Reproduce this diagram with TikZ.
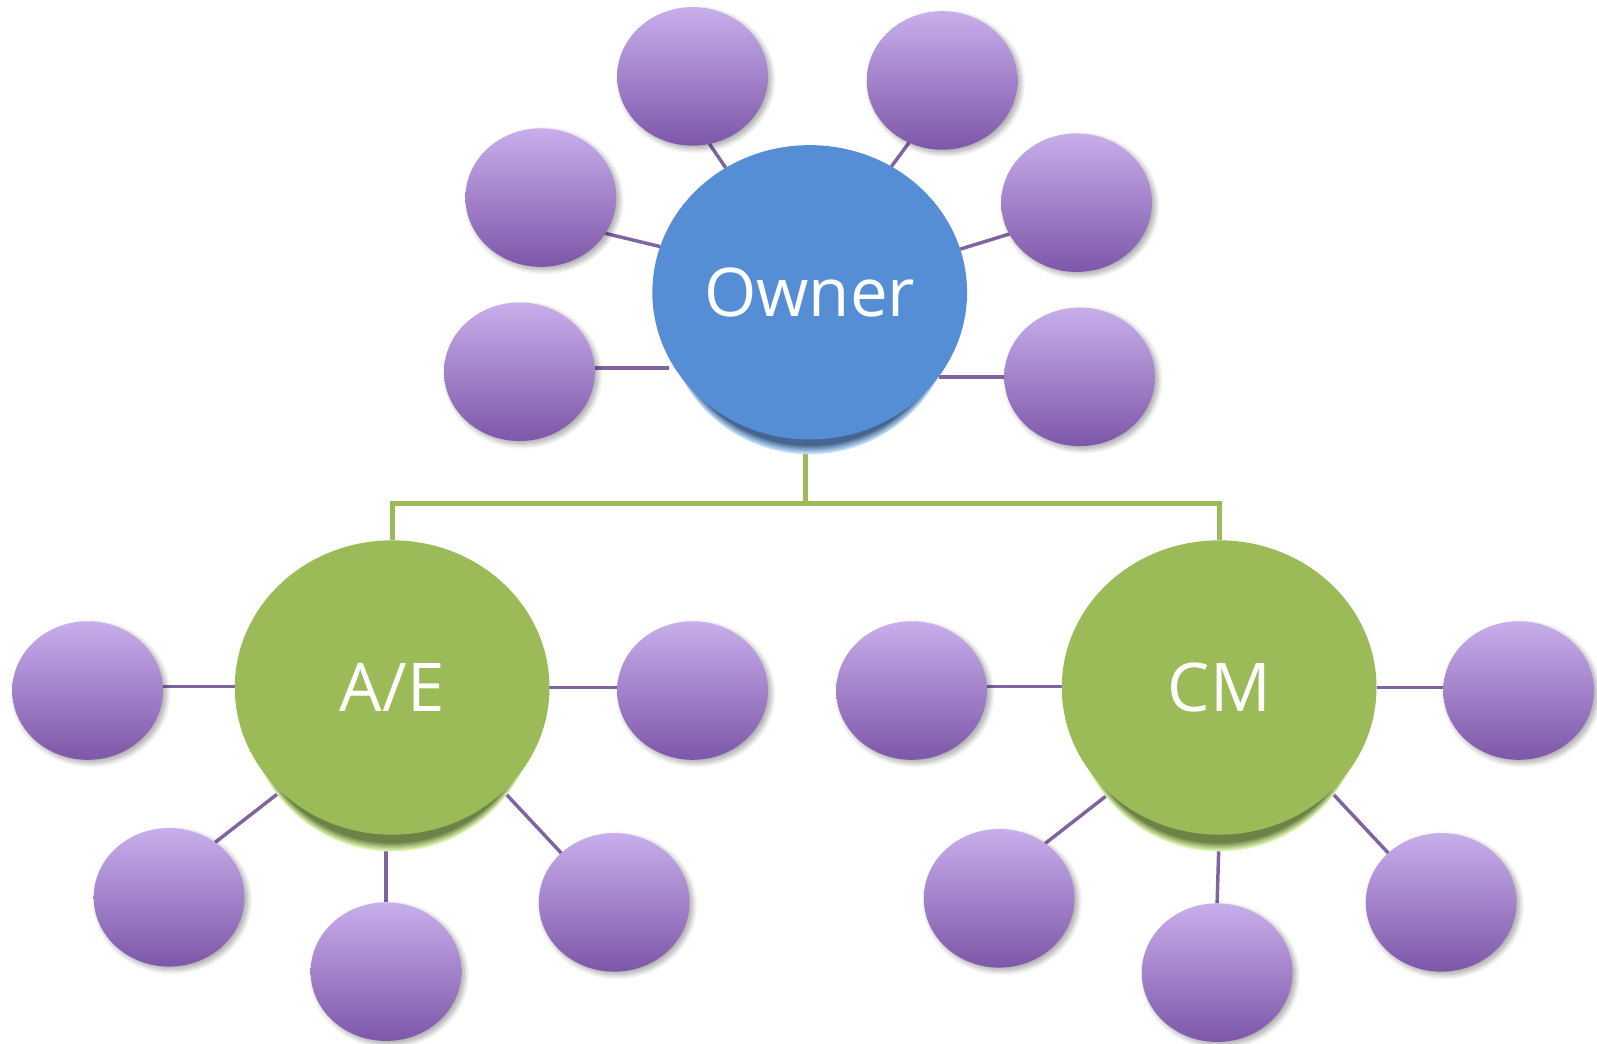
\documentclass[tikz,border=0pt]{standalone}
\usepackage{fontspec}
\setmainfont{Open Sans}
\usetikzlibrary{shapes.geometric,shadows,shadows.blur,calc}
\definecolor{ownerblue}{HTML}{558ED5}
\definecolor{aegreen}{HTML}{9BBB59}
\definecolor{ptop}{HTML}{C8AEEB}
\definecolor{pbot}{HTML}{7D57A9}
\definecolor{pline}{HTML}{8064A2}
\definecolor{bshadow}{HTML}{46668F}
\definecolor{brim}{HTML}{BFDDFB}
\definecolor{gshadow}{HTML}{6C8246}
\definecolor{grim}{HTML}{DDF5B0}
\pgfdeclarelayer{bg}\pgfdeclarelayer{sh}\pgfsetlayers{bg,sh,main}
\begin{document}
\begin{tikzpicture}[x=1pt,y=-1pt,
  leaf/.style={ellipse, minimum width=148pt, minimum height=136pt, inner sep=0pt, outer sep=0pt,
    top color=ptop, bottom color=pbot, draw=none,
    blur shadow={shadow xshift=3pt, shadow yshift=-3pt, shadow blur radius=5pt, shadow blur steps=8, shadow opacity=35}},
  hub/.style={ellipse, minimum width=309pt, minimum height=289pt, inner sep=0pt, outer sep=0pt,
    text=white, font=\fontsize{66}{70}\selectfont},
  pconn/.style={draw=pline, line width=3.4pt},
  gconn/.style={draw=aegreen, line width=5pt}
]
\useasboundingbox (0,0) rectangle (1568,1025);

% hubs
\node[hub, fill=ownerblue] (owner) at (795,287) {Owner};
\node[hub, fill=aegreen] (ae) at (385,675) {A/E};
\node[hub, fill=aegreen] (cm) at (1197,675) {CM};

% owner leaves
\node[leaf] (p1) at (680,75) {};
\node[leaf] (p2) at (925,79) {};
\node[leaf] (p3) at (531,194) {};
\node[leaf] (p4) at (1057,199) {};
\node[leaf] (p5) at (510,365) {};
\node[leaf] (p6) at (1060,370) {};
% A/E leaves
\node[leaf] (p7) at (86,678) {};
\node[leaf] (p8) at (680,678) {};
\node[leaf] (p9) at (166,881) {};
\node[leaf] (p10) at (379,954) {};
\node[leaf] (p11) at (603,886) {};
% CM leaves
\node[leaf] (p12) at (895,678) {};
\node[leaf] (p13) at (1491,678) {};
\node[leaf] (p14) at (981,882) {};
\node[leaf] (p15) at (1195,955) {};
\node[leaf] (p16) at (1415,886) {};

\coordinate (j) at (791,494);

% hub shadows: graded bands, light rim outside, dark next to the disc
\begin{pgfonlayer}{sh}
\foreach \k in {0,...,9}{
  \pgfmathsetmacro{\sh}{16-1.6*\k}
  \pgfmathsetmacro{\mix}{max(0,100-20*\k)}
  \fill[brim!\mix!bshadow] ($(owner.center)+(0,\sh)$) ellipse [x radius=143, y radius=143];
  \fill[grim!\mix!gshadow] ($(ae.center)+(0,\sh)$) ellipse [x radius=143, y radius=145];
  \fill[grim!\mix!gshadow] ($(cm.center)+(0,\sh)$) ellipse [x radius=143, y radius=145];
}
\end{pgfonlayer}

% connectors
\begin{pgfonlayer}{bg}
\draw[pconn] (p1.-76) -- (owner.124);
\draw[pconn] (p2.242) -- (owner.57);
\draw[pconn] (p3.-29) -- (owner.163);
\draw[pconn] (p4.205) -- (owner.16);
\draw[pconn] (p5.3) -- (p5.3 -| owner.205);
\draw[pconn] (p6.west) -- (p6.west -| owner.-33);

\draw[pconn] (p7.3) -- (p7.3 -| ae.west);
\draw[pconn] (ae.east) -- (ae.east -| p8.west);
\draw[pconn] (p9.50) -- (ae.223);
\draw[pconn] (p10.north) -- (p10.north |- ae.south);
\draw[pconn] (p11.137) -- (ae.-43);

\draw[pconn] (p12.3) -- (p12.3 -| cm.west);
\draw[pconn] (cm.east) -- (cm.east -| p13.west);
\draw[pconn] (p14.50) -- (cm.224);
\draw[pconn] (p15.north) -- (cm.south);
\draw[pconn] (p16.137) -- (cm.-43);

\draw[gconn] (j |- owner.south) -- (j);
\draw[gconn] (j) -| (ae.north);
\draw[gconn] (j) -| (cm.north);
\end{pgfonlayer}
\end{tikzpicture}
\end{document}
